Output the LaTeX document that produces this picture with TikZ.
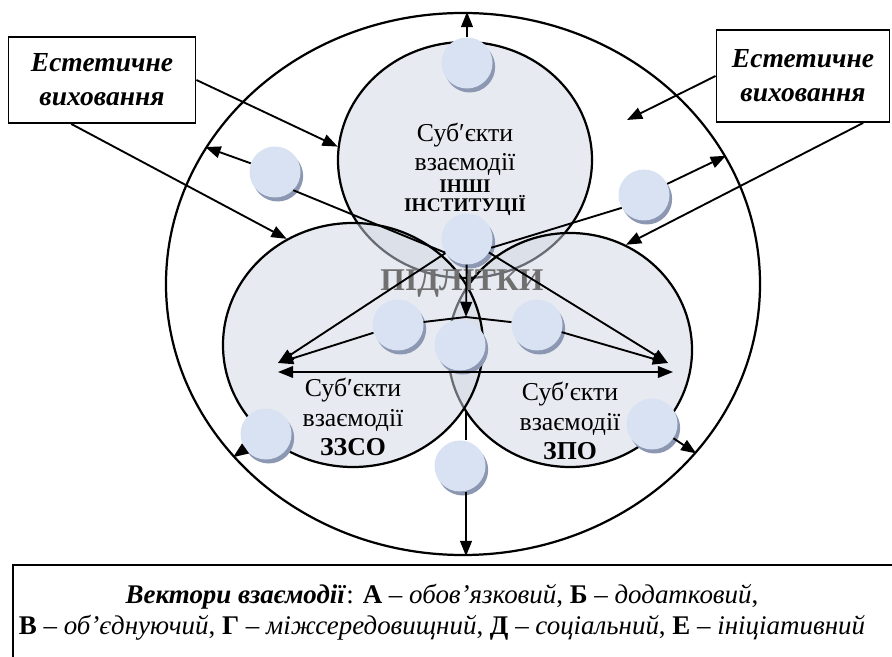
\documentclass[tikz,border=0pt]{standalone}
\usepackage{fontspec}
\setmainfont{Liberation Serif}
\usetikzlibrary{arrows.meta,shapes.geometric,shadows}
\definecolor{ringfill}{RGB}{208,214,226}
\definecolor{ballblue}{RGB}{217,226,242}
\definecolor{ballshade}{RGB}{140,152,178}
\definecolor{teengrey}{RGB}{112,112,112}

\begin{document}
\begin{tikzpicture}[x=0.03cm, y=-0.03cm, every node/.style={font=\fontsize{22}{25}\selectfont},
	sphere/.style={ellipse, draw, line width=1.9pt, fill=ringfill, fill opacity=0.5, inner sep=0pt},
	ball/.style={circle, fill=ballblue, inner sep=0pt, minimum size=1.53cm, drop shadow={shadow xshift=0.08cm, shadow yshift=-0.12cm, fill=ballshade, opacity=1}},
	vec/.style={line width=1.6pt, -{Triangle[length=13pt, width=10pt]}},
	link/.style={line width=1.6pt},
	tag/.style={draw, line width=1.6pt, align=center, inner sep=0pt, font=\fontsize{23.5}{29}\selectfont\bfseries\itshape}]
	\useasboundingbox (0,0) rectangle (892,657);
	\node[ellipse, draw, line width=1.9pt, inner sep=0pt, minimum width=17.82cm, minimum height=16.26cm] (outer) at (463,284) {};
	\node[sphere, minimum width=7.62cm, minimum height=7.08cm] (inst) at (465,160) {};
	\node[sphere, minimum width=7.32cm, minimum height=7.02cm] (zpo) at (570,350) {};
	\node[sphere, minimum width=7.8cm, minimum height=7.32cm] (zzso) at (353,345) {};
	\node[align=center] (instlbl) at (465,169) {Суб′єкти\\взаємодії\\[-6pt]{\fontsize{16.5}{16}\selectfont\bfseries ІНШІ}\\[-9pt]{\fontsize{16.5}{16}\selectfont\bfseries ІНСТИТУЦІЇ}};
	\node[align=center] (zzsolbl) at (353,417) {Суб′єкти\\взаємодії\\\textbf{ЗЗСО}};
	\node[align=center] (zpolbl) at (570,421) {Суб′єкти\\взаємодії\\\textbf{ЗПО}};
	\node[text=teengrey, font=\fontsize{27}{27}\selectfont\bfseries] (teens) at (462,284) {ПІДЛІТКИ};
	\node[tag, minimum width=5.61cm, minimum height=2.58cm] (aesL) at (102,80) {Естетичне\\виховання};
	\node[tag, minimum width=5.19cm, minimum height=2.76cm] (aesR) at (803,76) {Естетичне\\виховання};
	\node[draw, line width=1.6pt, inner sep=0pt, anchor=north west, minimum width=28cm, minimum height=4cm] (legendbox) at (12,564) {};
	\node[align=center, font=\fontsize{23}{26.5}\selectfont] (legend) at (442,612) {\textbf{\textit{Вектори взаємодії}}: \textbf{А} – \textit{обов’язковий}, \textbf{Б} – \textit{додатковий},\\\textbf{В} – \textit{об’єднуючий}, \textbf{Г} – \textit{міжсередовищний}, \textbf{Д} – \textit{соціальний}, \textbf{Е} – \textit{ініціативний}};
	\coordinate (hub) at (466,317);
	\coordinate (ltip) at (278,363);
	\coordinate (rtip) at (668,363);
	\coordinate (hleft) at (278,372);
	\coordinate (hright) at (673,372);
	\coordinate (meet) at (466,410);
	\coordinate (ring) at (627,120);
	\node[ball] (btop) at (467,63) {};
	\node[ball] (bnw) at (275,172) {};
	\node[ball] (bne) at (644,195) {};
	\node[ball] (bmid) at (467,239) {};
	\node[ball] (bwest) at (398,325) {};
	\node[ball] (beast) at (537,325) {};
	\node[ball] (bcore) at (460,345) {};
	\node[ball] (bsw) at (266,434) {};
	\node[ball] (bse) at (652,424) {};
	\node[ball] (bbot) at (460,466) {};
	\draw[vec] (btop) -- (btop |- outer.north);
	\draw[vec] (bnw) -- (outer.152);
	\draw[link] (bnw.-45) -- (bmid.212);
	\draw[vec] (bne) -- (outer.26);
	\draw[link] (bne.210) -- (bmid.-20);
	\draw[vec] (bmid) -- (hub);
	\draw[vec] (bmid) -- (ltip);
	\draw[vec] (bmid) -- (rtip);
	\draw[link] (bwest) -- (hub);
	\draw[link] (beast) -- (hub);
	\draw[vec] (bwest) -- (ltip);
	\draw[vec] (beast) -- (rtip);
	\draw[link, {Triangle[length=13pt, width=10pt]}-{Triangle[length=13pt, width=10pt]}] (hleft) -- (hright);
	\draw[link] (meet) -- (meet |- bbot.north);
	\draw[vec] (meet |- bbot.south) -- (meet |- outer.south);
	\draw[vec] (bsw) -- (outer.217);
	\draw[vec] (bse) -- (outer.-36);
	\draw[vec] (aesL.east) -- (inst.174);
	\draw[vec] (aesL.-125) -- (zzso.122);
	\draw[vec] (aesR.west) -- (ring);
	\draw[vec] (aesR.-38) -- (zpo.62);
\end{tikzpicture}
\end{document}
